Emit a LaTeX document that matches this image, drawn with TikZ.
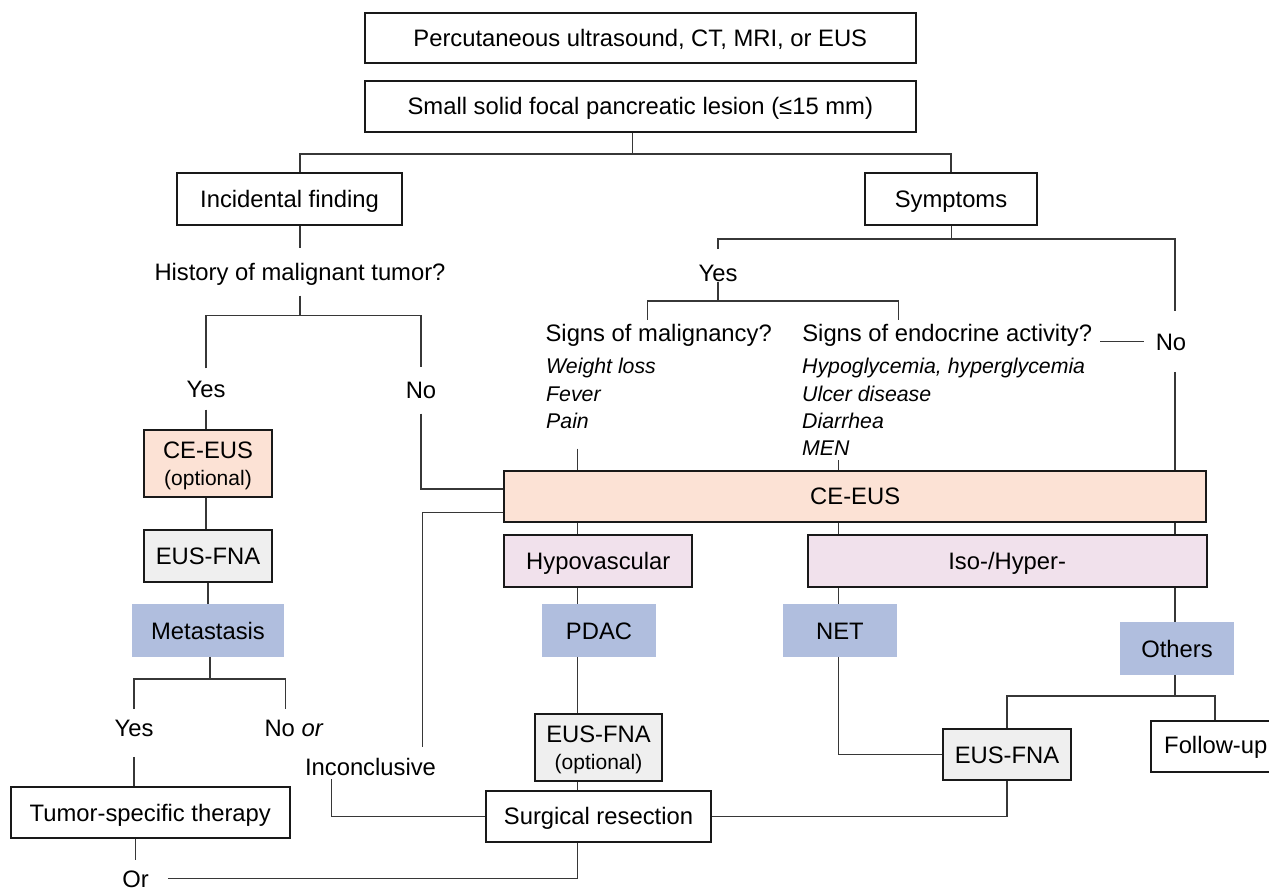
\documentclass[tikz,border=0pt]{standalone}
\usepackage{fontspec}
\setmainfont{Liberation Sans}
\definecolor{peach}{RGB}{252,226,213}
\definecolor{pinkish}{RGB}{241,225,236}
\definecolor{blueish}{RGB}{176,190,222}
\definecolor{lgray}{RGB}{239,239,239}
\definecolor{conn}{RGB}{55,55,55}
\definecolor{bord}{RGB}{25,25,25}
\begin{document}
\begin{tikzpicture}[x=1pt,y=-1pt,
  every node/.style={font=\fontsize{23.8pt}{28pt}\selectfont, inner sep=0pt, text height=17pt, text depth=0pt},
  box/.style={draw=bord, line width=1.9pt, fill=white},
  small/.style={font=\fontsize{21pt}{25pt}\selectfont},
  it/.style={font=\fontsize{21.3pt}{26pt}\selectfont\itshape, anchor=base west},
  con/.style={draw=conn, line width=1.1pt},
]
\useasboundingbox (0,0) rectangle (1269,890);
% columns and junctions
\coordinate (cA) at (577.7,0);
\coordinate (cN) at (838.7,0);
\coordinate (cR) at (1175,0);
\coordinate (cF) at (1215,0);
\coordinate (cNo) at (285.7,0);
\coordinate (cSM) at (647.3,0);
\coordinate (cSE) at (898.7,0);
\coordinate (j1) at (632.3,154);
\coordinate (jh) at (300,315.3);
\coordinate (jm) at (210,679);
\coordinate (jy) at (718,301);
\coordinate (js) at (951.3,239);
\coordinate (ic) at (331.7,779.3);
\coordinate (cInc) at (422.3,746.7);
\coordinate (jo) at (1175,696);

% top
\node[box, minimum width=550.7pt, minimum height=50.6pt] (p1) at (640.3,38) {Percutaneous ultrasound, CT, MRI, or EUS};
\node[box, minimum width=550.7pt, minimum height=51.3pt] (p2) at (640.3,106.3) {Small solid focal pancreatic lesion (≤15 mm)};
\node[box, minimum width=225.6pt, minimum height=51.7pt] (inc) at (289.5,198.8) {Incidental finding};
\node[box, minimum width=172.6pt, minimum height=51.7pt] (sym) at (951,198.8) {Symptoms};

% left branch
\node[minimum height=47.4pt] (hist) at (300,271.7) {History of malignant tumor?};
\node[minimum height=41pt] (yes1) at (206,389) {Yes};
\node[minimum height=46pt] (no1) at (421,390.5) {No};
\node[box, fill=peach, minimum width=127.4pt, minimum height=66.7pt] (ce1) at (208,463.3) {};
\node[anchor=base] (ce1a) at (208,458.3) {CE-EUS};
\node[anchor=base, small] (ce1b) at (208,485.5) {(optional)};
\node[box, fill=lgray, minimum width=127.4pt, minimum height=51.4pt] (fna1) at (208,556) {EUS-FNA};
\node[fill=blueish, minimum width=152pt, minimum height=52.4pt] (met) at (208,630.5) {Metastasis};
\node[minimum height=38pt] (yes2) at (134,728.3) {Yes};
\node[minimum height=38pt] (no2) at (294,728.3) {No \textit{or}};
\node (incl) at (370.5,766.7) {Inconclusive};
\node[box, minimum width=278.7pt, minimum height=51.6pt] (tum) at (150.3,812.5) {Tumor-specific therapy};
\node[minimum width=64.4pt, minimum height=37pt] (or1) at (135.5,878.5) {Or};

% right branch
\node[minimum height=48pt] (yes3) at (718,273.3) {Yes};
\node[minimum height=25.4pt] (sm) at (658.7,332.7) {Signs of malignancy?};
\node[inner xsep=8pt, minimum height=25.4pt] (se) at (947.2,332.7) {Signs of endocrine activity?};
\node[minimum width=54pt, minimum height=60pt] (no3) at (1171,341.7) {No};
\node[it] (w1) at (546,374) {Weight loss};
\node[it] (w2) at (546,401.5) {Fever};
\node[it] (w3) at (546,428.5) {Pain};
\node[it] (e1) at (802,374) {Hypoglycemia, hyperglycemia};
\node[it] (e2) at (802,401.5) {Ulcer disease};
\node[it] (e3) at (802,428.5) {Diarrhea};
\node[it] (e4) at (802,455.5) {MEN};

\node[box, fill=peach, minimum width=701.7pt, minimum height=51.3pt] (ce) at (855.2,496.4) {CE-EUS};
\node[box, fill=pinkish, minimum width=188pt, minimum height=51.7pt] (hypo) at (598.3,560.8) {Hypovascular};
\node[box, fill=pinkish, minimum width=399pt, minimum height=51.7pt] (iso) at (1007.2,560.8) {Iso-/Hyper-};
\node[fill=blueish, minimum width=114pt, minimum height=52.4pt] (pdac) at (599,630.5) {PDAC};
\node[fill=blueish, minimum width=113.7pt, minimum height=52.4pt] (net) at (839.9,630.5) {NET};
\node[fill=blueish, minimum width=114pt, minimum height=52.4pt] (oth) at (1177,648.5) {Others};
\node[box, fill=lgray, minimum width=127pt, minimum height=66.7pt] (fna2) at (598.5,747.3) {};
\node[anchor=base] (fna2a) at (598.5,742.3) {EUS-FNA};
\node[anchor=base, small] (fna2b) at (598.5,769.5) {(optional)};
\node[box, minimum width=225pt, minimum height=51pt] (surg) at (598.5,816.2) {Surgical resection};
\node[box, fill=lgray, minimum width=127.4pt, minimum height=51.3pt] (fna3) at (1007,754.7) {EUS-FNA};
\node[box, minimum width=121pt, minimum height=51pt] (fu) at (1211.5,746.2) {};
\node[anchor=base west] (fut) at (1164,753.3) {Follow-up};

% connectors: top and left
\draw[con] (p2.south -| j1) -- (j1);
\draw[con] (inc.north -| hist) |- (j1) -| (sym.north);
\draw[con] (inc.south -| hist) -- (hist.north);
\draw[con] (hist.south) -- (jh);
\draw[con] (yes1.north) |- (jh) -| (no1.north);
\draw[con] (yes1.south) -- (yes1.south |- ce1.north);
\draw[con] (ce1.south -| yes1) -- (fna1.north -| yes1);
\draw[con] (fna1.south) -- (met.north);
\draw[con] (met.south -| jm) -- (jm);
\draw[con] (yes2.north) |- (jm) -| (no2.north -| cNo);
\draw[con, shorten <=9.4pt] (yes2.south) -- (yes2.south |- tum.north);
\draw[con] (tum.south -| or1) -- (or1.north);
\draw[con] (or1.east) -| (surg.south -| cA);
\draw[con] (ic) |- (surg.west);
\draw[con] (no1.south) |- ([yshift=7.4pt]ce.west);
\draw[con] ([yshift=-15.8pt]ce.west) -| (cInc);

% connectors: right
\draw[con] (sym.south -| js) -- (js);
\draw[con] (yes3.north) |- (js) -| (no3.north -| cR);
\draw[con] (yes3.base) -- (jy);
\draw[con] (sm.north -| cSM) |- (jy) -| (se.north -| cSE);
\draw[con] (se.base east) -- (se.base east -| no3.west);
\draw[con] (no3.south -| cR) -- (cR |- ce.north);
\draw[con, shorten <=20pt] (w3.base -| cA) -- (cA |- ce.north);
\draw[con, shorten <=4.5pt] (e4.base -| cN) -- (cN |- ce.north);
\draw[con] (ce.south -| cA) -- (hypo.north -| cA);
\draw[con] (ce.south -| cN) -- (iso.north -| cN);
\draw[con] (ce.south -| cR) -- (iso.north -| cR);
\draw[con] (hypo.south -| cA) -- (pdac.north -| cA);
\draw[con] (pdac.south -| cA) -- (fna2.north -| cA);
\draw[con] (fna2.south -| cA) -- (surg.north -| cA);
\draw[con] (iso.south -| cN) -- (net.north -| cN);
\draw[con] (net.south -| cN) |- (fna3.west);
\draw[con] (surg.east) -| (fna3.south);
\draw[con] (iso.south -| cR) -- (oth.north -| cR);
\draw[con] (oth.south -| cR) -- (jo);
\draw[con] (fna3.north) |- (jo) -| (fu.north -| cF);
\end{tikzpicture}
\end{document}
